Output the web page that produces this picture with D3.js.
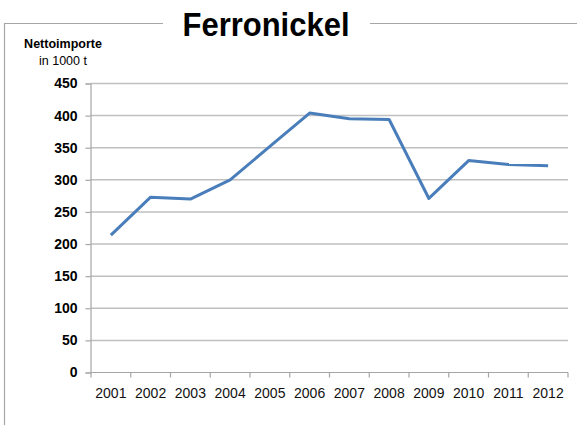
<!DOCTYPE html>
<html><head><meta charset="utf-8">
<script src="https://cdn.jsdelivr.net/npm/d3@7"></script>
<style>body{margin:0;background:#fff}svg{display:block}</style>
</head><body>
<script>
const title = "Ferronickel";
const yTitle1 = "Nettoimporte";
const yTitle2 = "in 1000 t";
const years = ["2001","2002","2003","2004","2005","2006","2007","2008","2009","2010","2011","2012"];
const values = [214, 273, 270, 300, 352, 404, 395, 394, 271, 330, 324, 322];
const yTicks = [0, 50, 100, 150, 200, 250, 300, 350, 400, 450];

const W = 577, H = 425;
const svg = d3.select("body").append("svg").attr("width", W).attr("height", H);

// frame
svg.append("path")
  .attr("d", "M163,23.5 H4.5 V425 M370,23.5 H577")
  .attr("fill","none").attr("stroke","#a6a6a6").attr("stroke-width",1.2);

svg.append("text").attr("x",266).attr("y",36).attr("text-anchor","middle")
  .attr("font-family","Liberation Sans, Arial, sans-serif").attr("font-weight","bold")
  .attr("font-size",33).attr("textLength",167).attr("lengthAdjust","spacingAndGlyphs")
  .text(title);

svg.append("text").attr("x",63).attr("y",48).attr("text-anchor","middle")
  .attr("font-family","Liberation Sans, Arial, sans-serif").attr("font-weight","bold")
  .attr("font-size",12.5).text(yTitle1);
svg.append("text").attr("x",63).attr("y",65).attr("text-anchor","middle")
  .attr("font-family","Liberation Sans, Arial, sans-serif")
  .attr("font-size",12.5).text(yTitle2);

const x = d3.scaleBand().domain(years).range([91, 568]);
const y = d3.scaleLinear().domain([0, 450]).range([372.5, 83.5]);

// gridlines
svg.append("g").selectAll("line").data(yTicks.filter(d=>d>0)).join("line")
  .attr("x1",90.5).attr("x2",568).attr("y1",d=>y(d)).attr("y2",d=>y(d))
  .attr("stroke","#c0c0c0").attr("stroke-width",1.5);

// y axis
const yAxis = svg.append("g").attr("transform","translate(90.5,0)")
  .call(d3.axisLeft(y).tickValues(yTicks).tickSize(5).tickPadding(8));
yAxis.select(".domain").attr("stroke","#a6a6a6").attr("stroke-width",1.2);
yAxis.selectAll(".tick line").attr("stroke","#a6a6a6").attr("stroke-width",1.2);
yAxis.selectAll(".tick text").attr("font-family","Liberation Sans, Arial, sans-serif")
  .attr("font-weight","bold").attr("font-size",14).attr("fill","#000");

// x axis
const xAxis = svg.append("g").attr("transform","translate(0,372.5)")
  .call(d3.axisBottom(x).tickSize(0).tickPadding(0));
xAxis.select(".domain").remove();
xAxis.append("line").attr("x1",90).attr("x2",568).attr("stroke","#a6a6a6").attr("stroke-width",1.2);
const bounds = years.map(d=>x(d)).concat([x(years[years.length-1])+x.bandwidth()]);
xAxis.selectAll(".bt").data(bounds).join("line").attr("class","bt")
  .attr("x1",d=>d).attr("x2",d=>d).attr("y1",0).attr("y2",5)
  .attr("stroke","#a6a6a6").attr("stroke-width",1.2);
xAxis.selectAll(".tick text").attr("y",25).attr("dy",0)
  .attr("font-family","Liberation Sans, Arial, sans-serif")
  .attr("font-size",14).attr("fill","#111");

// line
const line = d3.line().x((d,i)=>x(years[i])+x.bandwidth()/2).y(d=>y(d));
svg.append("path").datum(values).attr("d",line)
  .attr("fill","none").attr("stroke","#4a7ebb").attr("stroke-width",3)
  .attr("stroke-linejoin","round");
</script>
</body></html>
